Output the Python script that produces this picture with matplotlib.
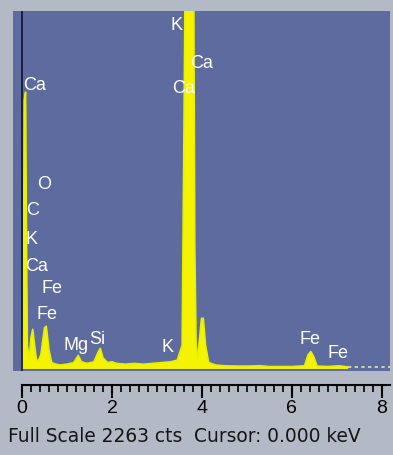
import numpy as np
import matplotlib
matplotlib.use("Agg")
import matplotlib.pyplot as plt
from matplotlib.ticker import MultipleLocator, FixedLocator

# spectrum outline (keV, counts)
energy = [0.00, 0.03, 0.05, 0.08, 0.10, 0.12, 0.16, 0.20, 0.24, 0.28, 0.32,
          0.36, 0.42, 0.50, 0.54, 0.60, 0.66, 0.75, 0.85, 1.00, 1.15, 1.25,
          1.32, 1.45, 1.60, 1.70, 1.74, 1.80, 1.90, 2.00, 2.10, 2.30, 2.50,
          2.70, 2.90, 3.10, 3.30, 3.45, 3.56, 3.60, 3.64, 3.81, 3.84, 3.87,
          3.90, 3.95, 3.99, 4.03, 4.08, 4.15, 4.30, 4.50, 4.80, 5.00, 5.30,
          5.50, 6.00, 6.28, 6.36, 6.42, 6.48, 6.56, 6.80, 7.05, 7.25]
counts = [0, 300, 1700, 1750, 800, 150, 60, 200, 250, 150, 60,
          50, 90, 260, 270, 120, 40, 30, 25, 30, 40, 85,
          45, 35, 45, 110, 130, 70, 40, 45, 35, 30, 35,
          30, 35, 40, 45, 55, 150, 1500, 3000, 3000, 800, 150,
          60, 200, 320, 320, 150, 40, 25, 20, 18, 18, 20,
          15, 15, 20, 90, 110, 80, 18, 15, 20, 12]

# element markers (keV, counts, label)
lab_x = [0.02, 3.30, 3.73, 3.33, 0.33, 0.09, 0.07, 0.07, 0.44, 0.33, 0.93, 1.49, 3.11, 6.16, 6.78]
lab_y = [1800, 2180, 1940, 1782, 1170, 1005, 822, 651, 518, 348, 152, 190, 139, 190, 101]
lab_t = ["Ca", "K", "Ca", "Ca", "O", "C", "K", "Ca", "Fe", "Fe", "Mg", "Si", "K", "Fe", "Fe"]

full_scale = 2263
cursor = 0.000

plt.rcParams["font.family"] = ["Liberation Sans", "DejaVu Sans"]

fig = plt.figure(figsize=(3.93, 4.56), dpi=100, facecolor="#b3b9c5")
ax = fig.add_axes([13 / 393, 1 - 372 / 456, 377 / 393, 360 / 456])
ax.set_facecolor("#5e6b9e")

ax.fill_between(energy, counts, color="#f4f400", lw=0)
ax.plot(energy, counts, color="#e8f000", lw=1.2)
ax.plot([7.25, 8.2], [12, 12], color="#d8e8a0", lw=1.2, ls=(0, (2, 2)))
ax.axvline(cursor, color="#101030", lw=1.2)

for x, y, t in zip(lab_x, lab_y, lab_t):
    ax.text(x, y, t, color="white", fontsize=13, ha="left", va="center")

ax.set_xlim(-0.2, 8.18)
ax.set_ylim(-13, full_scale)

for s in ["top", "right", "left"]:
    ax.spines[s].set_visible(False)
ax.spines["bottom"].set_position(("outward", 10))
ax.spines["bottom"].set_bounds(0, 8.18)
ax.spines["bottom"].set_linewidth(1.5)
ax.xaxis.set_major_locator(FixedLocator([0, 2, 4, 6, 8]))
ax.xaxis.set_minor_locator(FixedLocator([i * 0.2 for i in range(1, 41)]))
ax.tick_params(axis="x", which="major", length=9, width=1.5, labelsize=14, pad=1)
ax.tick_params(axis="x", which="minor", length=5, width=1.2)
ax.set_yticks([])

fig.text(8 / 393, 1 - 437 / 456,
         "Full Scale %d cts  Cursor: %.3f keV" % (full_scale, cursor),
         fontsize=13.4, color="#151515", va="center", ha="left", family="DejaVu Sans")

fig.savefig("out.png", dpi=100, facecolor=fig.get_facecolor())
